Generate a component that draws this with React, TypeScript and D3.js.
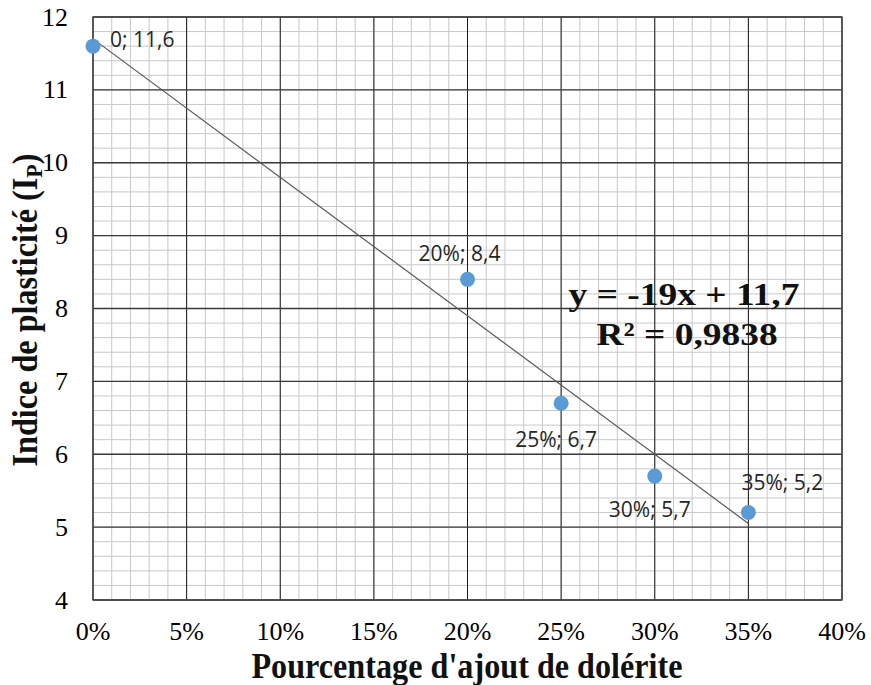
import React from 'react';
import * as d3 from 'd3';

const xs = [0, 0.2, 0.25, 0.3, 0.35];
const ys = [11.6, 8.4, 6.7, 5.7, 5.2];
const pointLabels = ['0; 11,6', '20%; 8,4', '25%; 6,7', '30%; 5,7', '35%; 5,2'];
const xTicks = [0, 0.05, 0.1, 0.15, 0.2, 0.25, 0.3, 0.35, 0.4];
const yTicks = [4, 5, 6, 7, 8, 9, 10, 11, 12];
const slope = -19;
const intercept = 11.7;

const width = 871;
const height = 685;
const left = 93;
const right = 842;
const top = 17;
const bottom = 600;

// label offsets relative to point (dx, dy, anchor)
const labelPos: [number, number, string][] = [
  [17, -7, 'start'],
  [-8, -26, 'middle'],
  [-5, 36, 'middle'],
  [-5, 34, 'middle'],
  [34, -30, 'middle'],
];

const serif = "'Times New Roman', 'Liberation Serif', serif";

export default function App() {
  const x = d3.scaleLinear().domain([0, 0.4]).range([left, right]);
  const y = d3.scaleLinear().domain([4, 12]).range([bottom, top]);

  const minorX = d3.range(0, 0.4001, 0.01);
  const minorY = d3.range(4, 12.0001, 0.2);
  const fmt = d3.format('.0%');

  const trend = d3.line<number>()
    .x(d => x(d))
    .y(d => y(slope * d + intercept));

  return (
    <svg width={width} height={height} style={{ position: 'absolute', left: 0, top: 0, background: '#fff' }}>
      <g>
        {minorX.map((d, i) => (
          <line key={'mx' + i} x1={x(d)} x2={x(d)} y1={top} y2={bottom} stroke="#c8c8c8" strokeWidth={1} />
        ))}
        {minorY.map((d, i) => (
          <line key={'my' + i} x1={left} x2={right} y1={y(d)} y2={y(d)} stroke="#c8c8c8" strokeWidth={1} />
        ))}
        {xTicks.map(d => (
          <line key={'X' + d} x1={x(d)} x2={x(d)} y1={top} y2={bottom} stroke="#1a1a1a" strokeWidth={1} />
        ))}
        {yTicks.map(d => (
          <line key={'Y' + d} x1={left} x2={right} y1={y(d)} y2={y(d)} stroke="#3a3a3a" strokeWidth={1.3} />
        ))}
        <rect x={left} y={top} width={right - left} height={bottom - top} fill="none" stroke="#444" strokeWidth={1.3} />
      </g>

      <g style={{ fontFamily: serif }} fontSize={26} fill="#000">
        {yTicks.map(d => (
          <text key={'yt' + d} x={68} y={y(d)} dy="0.33em" textAnchor="end" style={{ fontFamily: serif }}>{d}</text>
        ))}
        {xTicks.map(d => (
          <text key={'xt' + d} x={x(d)} y={640} textAnchor="middle" style={{ fontFamily: serif }}>{fmt(d)}</text>
        ))}
      </g>

      <path d={trend([0, 0.35]) || ''} fill="none" stroke="#595959" strokeWidth={1.2} />

      {xs.map((d, i) => (
        <circle key={'p' + i} cx={x(d)} cy={y(ys[i])} r={7.5} fill="#5b9bd5" />
      ))}

      <g fontFamily="'Open Sans', 'Noto Sans', sans-serif" fontSize={21} fill="#262626">
        {xs.map((d, i) => (
          <text key={'l' + i} x={x(d) + labelPos[i][0]} y={y(ys[i]) + labelPos[i][1]} dy="0.35em"
            textAnchor={labelPos[i][2]}>{pointLabels[i]}</text>
        ))}
      </g>

      <g fontFamily={serif} fontWeight="bold" fill="#111">
        <text transform="translate(684,305) scale(1.17,1)" fontSize={32} textAnchor="middle">y = -19x + 11,7</text>
        <text transform="translate(687,345) scale(1.17,1)" fontSize={32} textAnchor="middle">R² = 0,9838</text>
        <text transform="translate(467,678) scale(0.92,1)" fontSize={35} textAnchor="middle">Pourcentage d'ajout de dolérite</text>
        <text transform={`translate(37,310) rotate(-90) scale(0.92,1)`} fontSize={35} textAnchor="middle">
          Indice de plasticité (I<tspan fontSize={24} dy={5}>P</tspan><tspan dy={-5}>)</tspan>
        </text>
      </g>
    </svg>
  );
}
